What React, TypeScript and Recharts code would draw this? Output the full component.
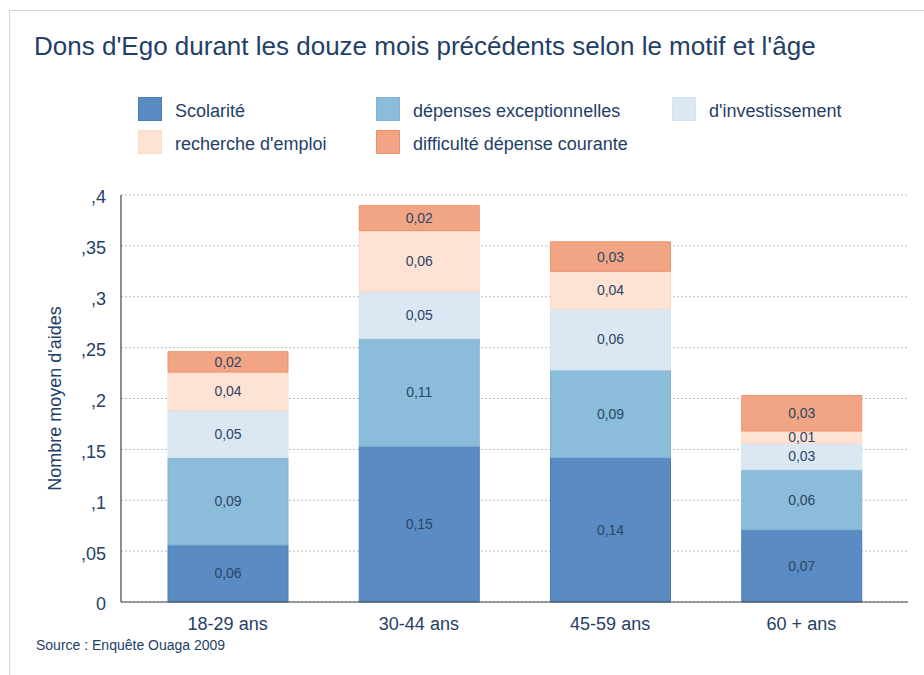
import React from 'react'
import { BarChart, Bar, XAxis, YAxis, CartesianGrid, LabelList, Legend } from 'recharts'

const categories = ['18-29 ans', '30-44 ans', '45-59 ans', '60 + ans']

const scolarite = [0.056, 0.153, 0.142, 0.071]
const exceptionnelles = [0.086, 0.106, 0.086, 0.059]
const investissement = [0.046, 0.046, 0.06, 0.026]
const rechercheEmploi = [0.038, 0.06, 0.037, 0.012]
const difficulte = [0.02, 0.0245, 0.029, 0.0349]

const yTicks = [0, 0.05, 0.1, 0.15, 0.2, 0.25, 0.3, 0.35, 0.4]

const series = [
  { key: 'scol', name: 'Scolarité', fill: '#5a8cc3', stroke: '#4a7db8' },
  { key: 'exc', name: 'dépenses exceptionnelles', fill: '#8bbcda', stroke: '#7fb3d5' },
  { key: 'inv', name: "d'investissement", fill: '#dbe8f3', stroke: '#d3e3f0' },
  { key: 'rech', name: "recherche d'emploi", fill: '#fee2d3', stroke: '#fcd9c5' },
  { key: 'diff', name: 'difficulté dépense courante', fill: '#f2a584', stroke: '#ef916c' },
]

const data = categories.map((name, i) => ({
  name,
  scol: scolarite[i],
  exc: exceptionnelles[i],
  inv: investissement[i],
  rech: rechercheEmploi[i],
  diff: difficulte[i],
}))

const FONT = '"Liberation Sans", Arial, sans-serif'
const TEXT = '#1f4068'

const fmtTick = (v: number) => (v === 0 ? '0' : String(v).replace('0.', ','))
const fmtLabel = (v: any) => Number(v).toFixed(2).replace('.', ',')

// legend placed in three columns, two rows, like the original
const legendPos = [
  { x: 138, y: 97 },
  { x: 376, y: 97 },
  { x: 672, y: 97 },
  { x: 138, y: 130 },
  { x: 376, y: 130 },
]

function LegendBlock() {
  return (
    <div style={{ position: 'relative', width: 924, height: 170 }}>
      {series.map((s, i) => (
        <div
          key={s.key}
          style={{ position: 'absolute', left: legendPos[i].x, top: legendPos[i].y, display: 'flex', alignItems: 'center', height: 24 }}
        >
          <div style={{ width: 22, height: 22, background: s.fill, border: `1px solid ${s.stroke}` }} />
          <span style={{ marginLeft: 13, marginTop: 4, fontSize: 18, color: TEXT, fontFamily: FONT, whiteSpace: 'nowrap' }}>{s.name}</span>
        </div>
      ))}
    </div>
  )
}

export default function App() {
  return (
    <div style={{ position: 'absolute', left: 0, top: 0, width: 924, height: 675, background: '#fff', fontFamily: FONT, overflow: 'hidden' }}>
      <div style={{ position: 'absolute', left: 9, top: 10, width: 1000, height: 1000, borderLeft: '1px solid #d4d4d4', borderTop: '1px solid #d4d4d4' }} />
      <div style={{ position: 'absolute', left: 34, top: 31, fontSize: 26, color: TEXT, whiteSpace: 'nowrap' }}>
        Dons d'Ego durant les douze mois précédents selon le motif et l'âge
      </div>
      <div style={{ position: 'absolute', left: 0, top: 0 }}>
        <BarChart width={924} height={675} data={data} margin={{ top: 195, right: 16, bottom: 43, left: 0 }} barSize={120}>
          <CartesianGrid vertical={false} stroke="#b8b8b8" strokeDasharray="2 2" />
          <XAxis
            dataKey="name"
            padding={{ left: 11, right: 11 }}
            tickLine={false}
            tickSize={0}
            tickMargin={15}
            axisLine={{ stroke: '#444', strokeWidth: 1.2 }}
            tick={{ fontSize: 18, fill: TEXT, fontFamily: FONT }}
          />
          <YAxis
            width={121}
            domain={[0, 0.4]}
            ticks={yTicks}
            tickFormatter={fmtTick}
            tickLine={false}
            tickSize={0}
            tickMargin={15}
            axisLine={{ stroke: '#444', strokeWidth: 1.2 }}
            tick={{ fontSize: 18, fill: TEXT, fontFamily: FONT, dy: 2 }}
            label={{ value: "Nombre moyen d'aides", angle: -90, position: 'center', dx: -6, fontSize: 18, fill: TEXT, fontFamily: FONT }}
          />
          <Legend
            layout="horizontal"
            verticalAlign="middle"
            align="center"
            wrapperStyle={{ top: 0, left: 0, width: 924, height: 170 }}
            content={() => <LegendBlock />}
          />
          {series.map((s) => (
            <Bar key={s.key} dataKey={s.key} name={s.name} stackId="a" fill={s.fill} stroke={s.stroke} strokeWidth={1} isAnimationActive={false}>
              <LabelList dataKey={s.key} position="center" formatter={fmtLabel} style={{ fontSize: 14, fill: '#2b4566', fontFamily: FONT }} />
            </Bar>
          ))}
        </BarChart>
      </div>
      <div style={{ position: 'absolute', left: 36, top: 637, fontSize: 14, color: TEXT }}>Source : Enquête Ouaga 2009</div>
    </div>
  )
}
